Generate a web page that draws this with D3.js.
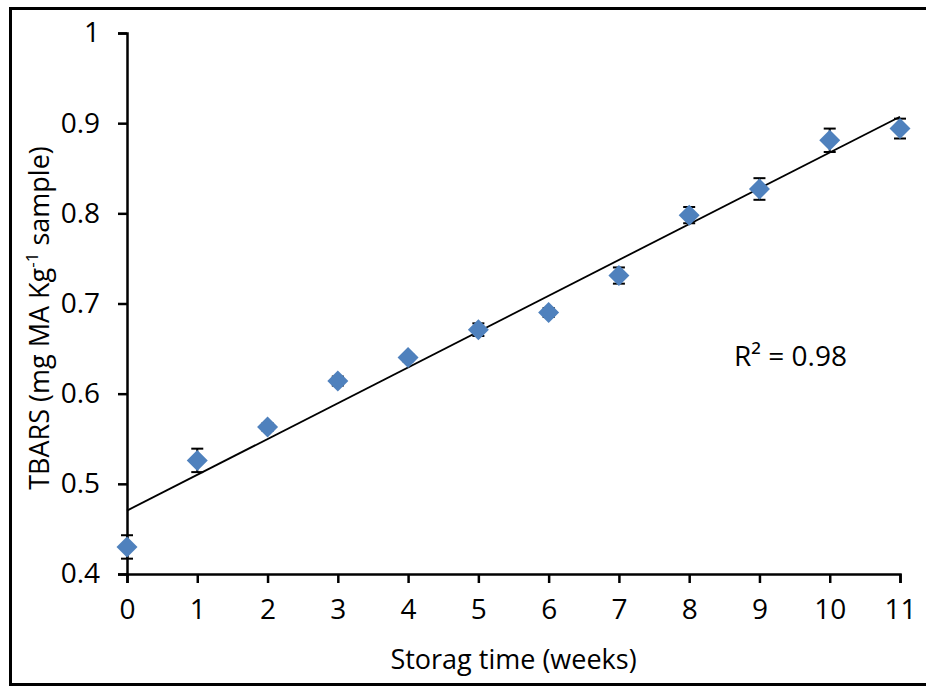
<!DOCTYPE html>
<html>
<head>
<meta charset="utf-8">
<script src="https://cdn.jsdelivr.net/npm/d3@7"></script>
<style>
  html, body { margin: 0; padding: 0; background: #fff; }
  svg { display: block; }
  text { font-family: "Open Sans", Lato, sans-serif; fill: #000; }
</style>
</head>
<body>
<svg id="chart" width="926" height="687"></svg>
<script>
// Storage week and measured TBARS with standard deviation
const weeks = [0, 1, 2, 3, 4, 5, 6, 7, 8, 9, 10, 11];
const tbars = [0.430, 0.526, 0.563, 0.614, 0.640, 0.671, 0.690, 0.731, 0.798, 0.827, 0.881, 0.894];
const sd    = [0.013, 0.013, 0.004, 0.005, 0.004, 0.007, 0.005, 0.009, 0.009, 0.012, 0.013, 0.011];
const xTicks = [0, 1, 2, 3, 4, 5, 6, 7, 8, 9, 10, 11];
const yTicks = [0.4, 0.5, 0.6, 0.7, 0.8, 0.9, 1];
const r2Label = "R\u00B2 = 0.98";

const svg = d3.select("#chart");
const W = 926, H = 687;
const TICK_FS = "28px", TITLE_FS = "27px";

// frame around the whole chart
svg.append("rect")
  .attr("x", 10.5).attr("y", 8.5)
  .attr("width", W + 10).attr("height", 676)
  .attr("fill", "none").attr("stroke", "#000").attr("stroke-width", 3);

const x = d3.scaleLinear().domain([0, 11]).range([127, 900]);
const y = d3.scaleLinear().domain([0.4, 1]).range([574, 33]);

// axes
const yAxis = svg.append("g")
  .attr("transform", `translate(${x(0)},0)`)
  .call(d3.axisLeft(y).tickValues(yTicks).tickSize(9).tickPadding(18)
        .tickFormat(d => d3.format("")(+d.toFixed(1))));
const xAxis = svg.append("g")
  .attr("transform", `translate(0,${y(0.4)})`)
  .call(d3.axisBottom(x).tickValues(xTicks).tickSize(9).tickPadding(16));

[yAxis, xAxis].forEach(g => {
  g.select(".domain").attr("stroke", "#000").attr("stroke-width", 2.5);
  g.selectAll(".tick line").attr("stroke", "#000").attr("stroke-width", 2.5);
  g.selectAll(".tick text").style("font-size", TICK_FS).attr("fill", "#000");
});

// least-squares trend line
const mx = d3.mean(weeks), my = d3.mean(tbars);
const sxy = d3.sum(weeks, (w, i) => (w - mx) * (tbars[i] - my));
const sxx = d3.sum(weeks, w => (w - mx) * (w - mx));
const slope = sxy / sxx, icpt = my - slope * mx;
svg.append("line")
  .attr("x1", x(0)).attr("y1", y(icpt))
  .attr("x2", x(11)).attr("y2", y(icpt + slope * 11))
  .attr("stroke", "#000").attr("stroke-width", 1.8);

// error bars
const eb = svg.append("g").attr("stroke", "#000").attr("stroke-width", 2);
weeks.forEach((w, i) => {
  const cx = x(w), top = y(tbars[i] + sd[i]), bot = y(tbars[i] - sd[i]);
  eb.append("line").attr("x1", cx).attr("x2", cx).attr("y1", top).attr("y2", bot);
  eb.append("line").attr("x1", cx - 6).attr("x2", cx + 6).attr("y1", top).attr("y2", top);
  eb.append("line").attr("x1", cx - 6).attr("x2", cx + 6).attr("y1", bot).attr("y2", bot);
});

// diamond markers
const diamond = "M0,-10.5L10.5,0L0,10.5L-10.5,0Z";
svg.append("g").selectAll("path")
  .data(weeks)
  .join("path")
  .attr("d", diamond)
  .attr("transform", (w, i) => `translate(${x(w)},${y(tbars[i])})`)
  .attr("fill", "#4F81BD");

// R² annotation
svg.append("text")
  .attr("x", 734).attr("y", 366)
  .style("font-size", "28px")
  .text(r2Label);

// axis titles
svg.append("text")
  .attr("x", (x(0) + x(11)) / 2).attr("y", 669)
  .attr("text-anchor", "middle")
  .style("font-size", TITLE_FS)
  .text("Storag time (weeks)");

const yt = svg.append("text")
  .attr("transform", "translate(49,318) rotate(-90)")
  .attr("text-anchor", "middle")
  .style("font-size", TITLE_FS);
yt.append("tspan").text("TBARS (mg MA Kg");
yt.append("tspan").attr("dy", -11).style("font-size", "17px").text("-1");
yt.append("tspan").attr("dy", 11).text(" sample)");
</script>
</body>
</html>
